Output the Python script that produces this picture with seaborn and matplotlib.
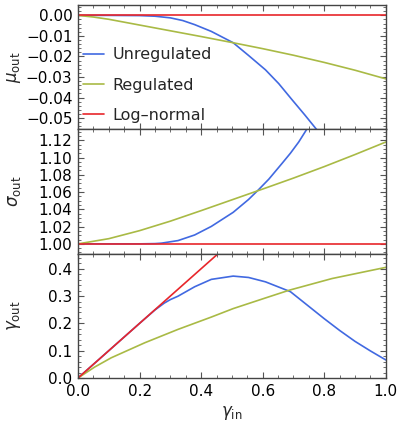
import numpy as np
import pandas as pd
import seaborn as sns
import matplotlib
matplotlib.use("Agg")
import matplotlib.pyplot as plt
from matplotlib.ticker import MultipleLocator, FuncFormatter

# ---- data ----
mu_unreg_x = [0, 0.1, 0.2, 0.25, 0.3, 0.34, 0.379, 0.433, 0.504, 0.554, 0.609, 0.652, 0.695, 0.737, 0.777, 0.80]
mu_unreg_y = [0, 0, -0.0001, -0.0004, -0.0012, -0.0025, -0.0045, -0.0078, -0.0133, -0.0195, -0.0265, -0.0332, -0.0410, -0.0485, -0.0559, -0.0605]
mu_reg_x = [0, 0.05, 0.1, 0.2, 0.3, 0.4, 0.5, 0.6, 0.7, 0.8, 0.9, 1.0]
mu_reg_y = [0, -0.0008, -0.0019, -0.0047, -0.0075, -0.0103, -0.0132, -0.0162, -0.0194, -0.0229, -0.0267, -0.0309]
mu_ln_x = [0, 1.0]
mu_ln_y = [0, 0]

sig_unreg_x = [0, 0.2, 0.25, 0.271, 0.325, 0.379, 0.433, 0.504, 0.554, 0.587, 0.62, 0.663, 0.69, 0.717, 0.74, 0.76]
sig_unreg_y = [1.0, 1.0, 1.0003, 1.0008, 1.0038, 1.0103, 1.0202, 1.0365, 1.0514, 1.0629, 1.0750, 1.0933, 1.1050, 1.1180, 1.1310, 1.1430]
sig_reg_x = [0, 0.1, 0.2, 0.3, 0.4, 0.5, 0.6, 0.7, 0.8, 0.9, 1.0]
sig_reg_y = [1.0, 1.006, 1.0153, 1.0263, 1.0385, 1.051, 1.0635, 1.0762, 1.0895, 1.1035, 1.118]
sig_ln_x = [0, 1.0]
sig_ln_y = [1.0, 1.0]

gam_unreg_x = [0, 0.1, 0.2, 0.25, 0.28, 0.3, 0.325, 0.379, 0.433, 0.504, 0.554, 0.609, 0.69, 0.75, 0.8, 0.85, 0.9, 0.95, 1.0]
gam_unreg_y = [0, 0.1, 0.2, 0.249, 0.274, 0.287, 0.2995, 0.334, 0.361, 0.373, 0.368, 0.352, 0.316, 0.262, 0.217, 0.174, 0.134, 0.099, 0.066]
gam_reg_x = [0, 0.054, 0.108, 0.217, 0.325, 0.433, 0.504, 0.609, 0.685, 0.825, 1.0]
gam_reg_y = [0, 0.040, 0.074, 0.129, 0.178, 0.223, 0.254, 0.293, 0.321, 0.364, 0.405]
gam_ln_x = [0, 0.46]
gam_ln_y = [0, 0.46]

labels = ["Unregulated", "Regulated", "Log\u2013normal"]
colors = ["#4169E1", "#A9BA45", "#E8262B"]

sns.set_style("ticks")
plt.rcParams["font.family"] = ["DejaVu Sans"]
plt.rcParams["mathtext.fontset"] = "dejavusans"


def fmt(nd):
    def f(v, pos):
        s = f"{v:.{nd}f}"
        if s.startswith("-"):
            if float(s) == 0:
                s = s[1:]
            else:
                s = "\u2212" + s[1:]
        return s
    return FuncFormatter(f)


fig = plt.figure(figsize=(3.99, 4.26), dpi=100)
gs = fig.add_gridspec(3, 1, left=0.1955, right=0.967, top=0.988, bottom=0.1127, hspace=0)
axes = [fig.add_subplot(gs[i]) for i in range(3)]

panels = [
    ([mu_unreg_x, mu_reg_x, mu_ln_x], [mu_unreg_y, mu_reg_y, mu_ln_y]),
    ([sig_unreg_x, sig_reg_x, sig_ln_x], [sig_unreg_y, sig_reg_y, sig_ln_y]),
    ([gam_unreg_x, gam_reg_x, gam_ln_x], [gam_unreg_y, gam_reg_y, gam_ln_y]),
]

for ax, (xs, ys) in zip(axes, panels):
    for x, y, lab, c in zip(xs, ys, labels, colors):
        df = pd.DataFrame({"x": x, "y": y})
        sns.lineplot(data=df, x="x", y="y", ax=ax, color=c, lw=1.2, label=lab, sort=False)
    ax.set_xlim(0, 1.0)
    ax.set_xlabel("")
    ax.xaxis.set_major_locator(MultipleLocator(0.2))
    ax.xaxis.set_minor_locator(MultipleLocator(0.05))
    ax.tick_params(which="both", direction="in", top=True, right=True, colors="#555555",
                   labelcolor="black", labelsize=11, pad=4)
    ax.tick_params(which="major", length=4, width=0.8)
    ax.tick_params(which="minor", length=2, width=0.6)
    for s in ax.spines.values():
        s.set_color("#444444")
        s.set_linewidth(1.0)

axes[0].set_ylim(-0.0555, 0.005)
axes[0].yaxis.set_major_locator(MultipleLocator(0.01))
axes[0].yaxis.set_minor_locator(MultipleLocator(0.002))
axes[0].yaxis.set_major_formatter(fmt(2))
axes[1].set_ylim(0.9886, 1.1326)
axes[1].yaxis.set_major_locator(MultipleLocator(0.02))
axes[1].yaxis.set_minor_locator(MultipleLocator(0.005))
axes[1].yaxis.set_major_formatter(fmt(2))
axes[2].set_ylim(0, 0.455)
axes[2].yaxis.set_major_locator(MultipleLocator(0.1))
axes[2].yaxis.set_minor_locator(MultipleLocator(0.02))
axes[2].yaxis.set_major_formatter(fmt(1))
axes[2].xaxis.set_major_formatter(fmt(1))

for ax in axes[:2]:
    ax.tick_params(axis="x", labelbottom=False)

for ax, lab in zip(axes, [r"$\mu_{\mathrm{out}}$", r"$\sigma_{\mathrm{out}}$", r"$\gamma_{\mathrm{out}}$"]):
    ax.set_ylabel(lab, fontsize=12)
    ax.yaxis.set_label_coords(-0.18, 0.5)

axes[2].set_xlabel(r"$\gamma_{\mathrm{in}}$", fontsize=12, labelpad=4)

axes[1].get_legend().remove()
axes[2].get_legend().remove()
axes[0].legend(loc="upper left", bbox_to_anchor=(0.016, 0.66), frameon=False, fontsize=11.5,
               handlelength=1.3, handletextpad=0.55, labelspacing=0.95, borderpad=0.0,
               borderaxespad=0.0)

fig.savefig("out.png", dpi=100)
